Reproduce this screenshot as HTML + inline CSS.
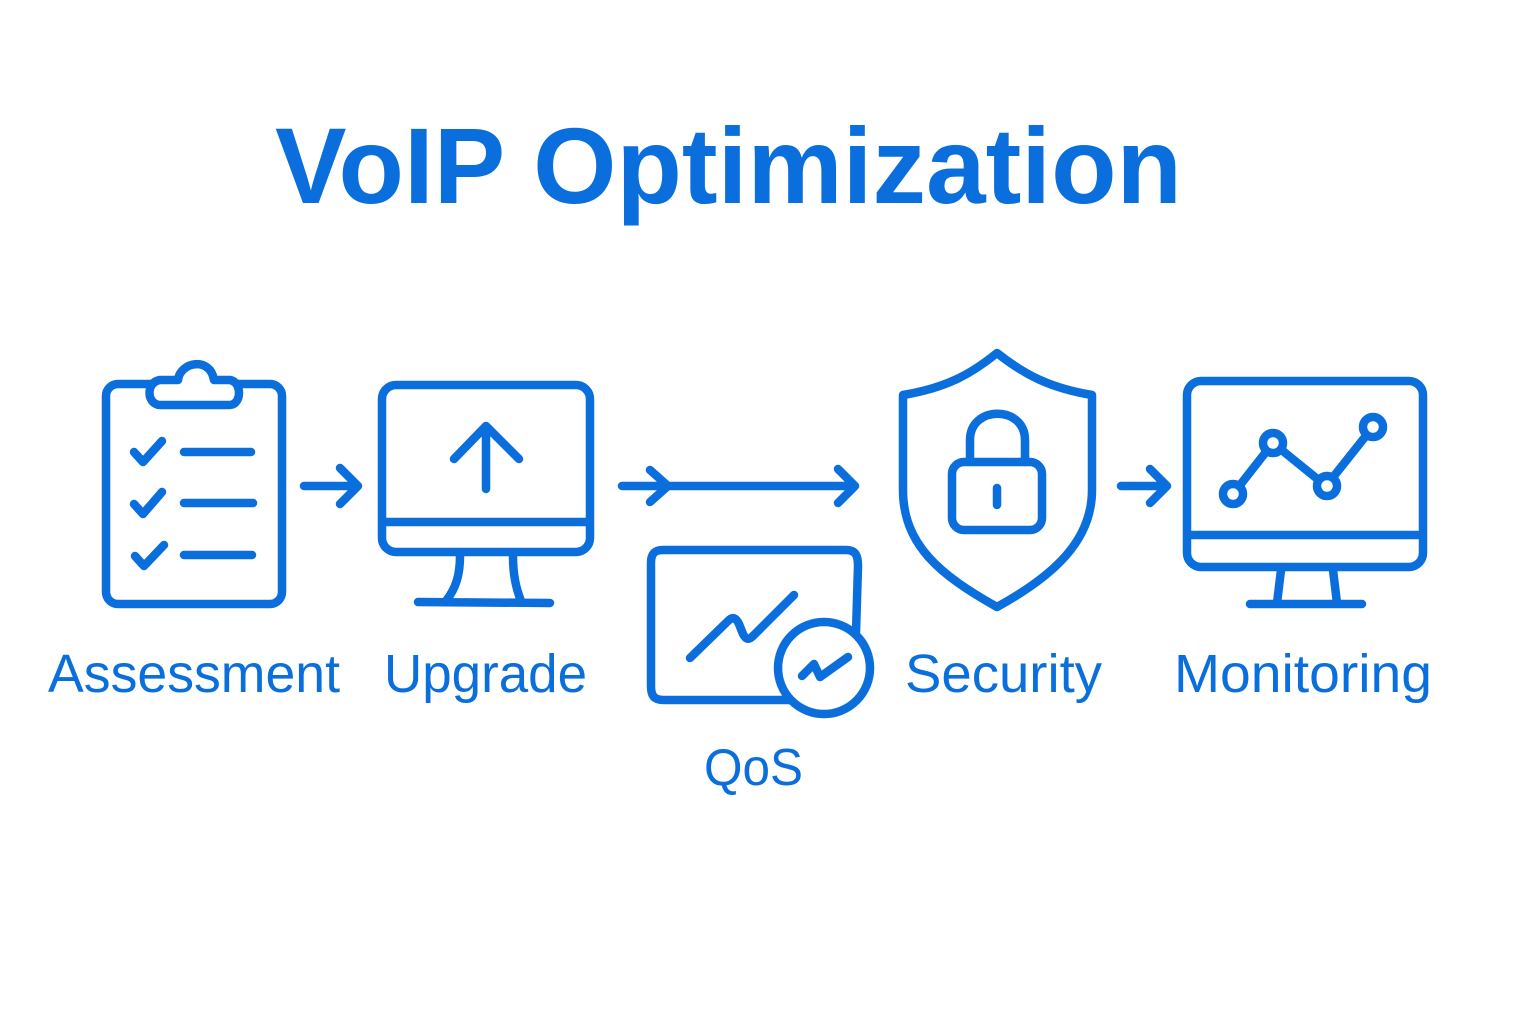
<!DOCTYPE html>
<html><head><meta charset="utf-8"><style>
html,body{margin:0;padding:0;background:#fff;}
svg{display:block;}
text{font-family:"Liberation Sans","DejaVu Sans",sans-serif;fill:#0a6fdc;}
</style></head><body>
<svg width="1536" height="1024" viewBox="0 0 1536 1024" xmlns="http://www.w3.org/2000/svg">
<text x="275" y="203" font-size="108" font-weight="bold" textLength="907" lengthAdjust="spacingAndGlyphs">VoIP Optimization</text>
<g fill="none" stroke="#0a6fdc" stroke-width="8.5" stroke-linecap="round" stroke-linejoin="round">
<rect x="106" y="384" width="176" height="220" rx="12"/>
<path d="M160,380 L178,380 C180,362 210,356 214,380 L230,380 C242,382 242,404 230,405 L160,405 C146,404 146,382 160,380Z" fill="#fff"/>
<path d="M134,452 L143,462 L162,441"/><path d="M184,452 L251,452"/>
<path d="M134,504 L143,514 L162,492"/><path d="M184,503 L253,503"/>
<path d="M135,556 L144,566 L164,545"/><path d="M184,555 L252,555"/>
<path d="M304,486 L358,486 M340,468 L358,486 L340,504"/>
<rect x="382" y="385" width="208" height="167" rx="14"/>
<path d="M384,522 L588,522"/>
<path d="M486,489 L486,426 M454,459 L486,426 L519,459"/>
<path d="M460,556 C460,575 456,588 446,601 M513,556 C513,575 516,588 521,601 M418,602 L550,603"/>
<path d="M622,486 L855,486 M650,470 L668,486 L650,502 M838,469 L855,486 L838,503"/>
<path d="M663,550 L846,550 C856,550 858,556 858,566 L856,632 M800,700 L664,700 C654,700 651,696 651,686 L651,563 C651,553 655,550 663,550"/>
<path d="M690,658 L728,621 C733,616 736,618 739,624 L743,634 C746,640 749,640 753,636 L794,595"/>
<circle cx="824" cy="668" r="46" fill="#fff"/>
<path d="M802,676 L814,664 L820,677 L848,657"/>
<path d="M997,353 C970,375 945,388 903,395 L903,490 C903,545 940,575 997,607 C1055,575 1092,540 1092,490 L1092,395 C1050,388 1025,375 997,353Z"/>
<rect x="952" y="462" width="90" height="68" rx="12"/>
<path d="M970,462 L970,440 C970,405 1025,405 1025,440 L1025,462"/>
<path d="M997,488 L997,505"/>
<path d="M1121,486 L1167,486 M1150,469 L1167,486 L1150,503"/>
<rect x="1187" y="381" width="236" height="186" rx="14"/>
<path d="M1189,535 L1421,535"/>
<path d="M1281,570 L1277,603 M1333,570 L1337,603 M1250,604 L1362,604"/>
<path d="M1233,494 L1273,443 L1326,486 L1373,427"/>
<circle cx="1233" cy="494" r="10" fill="#fff"/>
<circle cx="1273" cy="443" r="10" fill="#fff"/>
<circle cx="1327" cy="486" r="10" fill="#fff"/>
<circle cx="1373" cy="427" r="10" fill="#fff"/>
</g>
<text x="48" y="692" font-size="54" textLength="292" lengthAdjust="spacingAndGlyphs">Assessment</text>
<text x="384" y="692" font-size="54" textLength="203" lengthAdjust="spacingAndGlyphs">Upgrade</text>
<text x="905" y="692" font-size="54" textLength="197" lengthAdjust="spacingAndGlyphs">Security</text>
<text x="1174" y="692" font-size="54" textLength="258" lengthAdjust="spacingAndGlyphs">Monitoring</text>
<text x="704" y="785" font-size="52" textLength="99" lengthAdjust="spacingAndGlyphs">QoS</text>
</svg>
</body></html>
